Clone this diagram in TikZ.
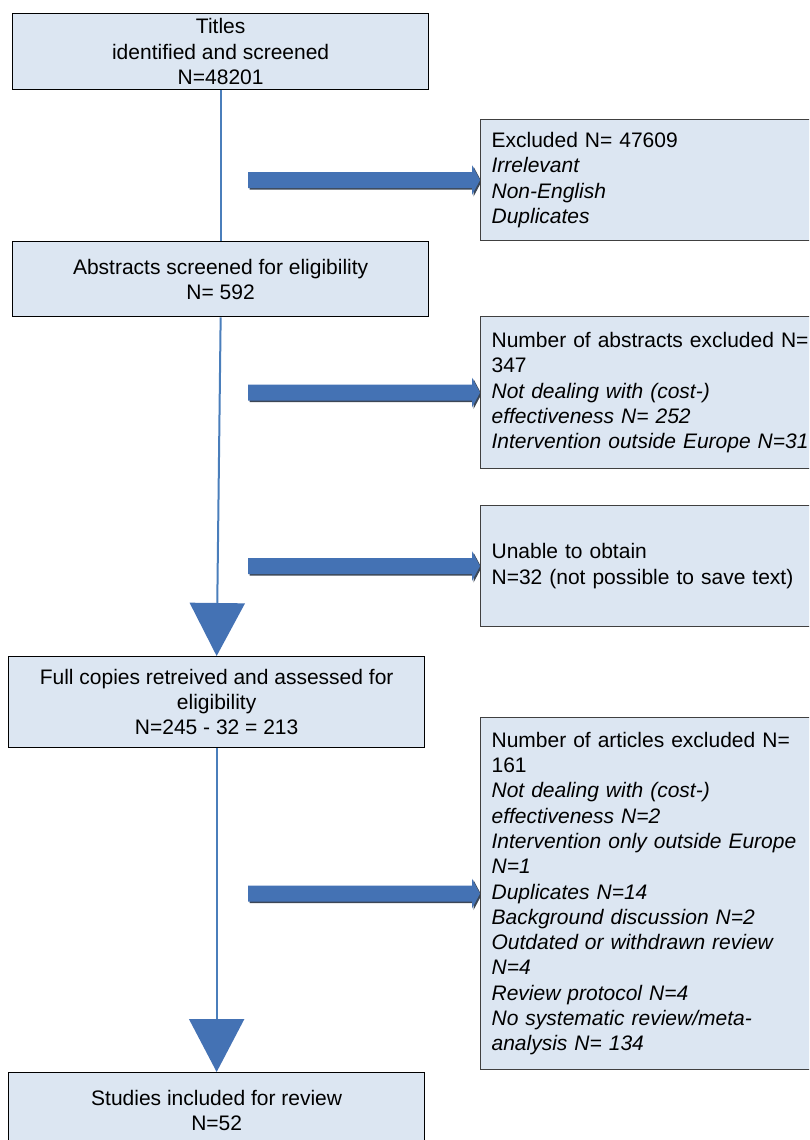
\documentclass[tikz,border=0pt]{standalone}
\usepackage{fontspec}
\setmainfont{Liberation Sans}
\usetikzlibrary{arrows.meta}
\definecolor{boxfill}{HTML}{DCE6F2}
\definecolor{arrblue}{HTML}{4472B4}
\definecolor{lineblue}{HTML}{4A7EBB}
\definecolor{shad}{HTML}{3C4756}
\definecolor{rborder}{HTML}{404040}
\pgfdeclarelayer{bg}
\pgfsetlayers{bg,main}
\newcommand\myblockarrow[3]{%
  \fill[#3] ([shift={(0,-8)}]#1) -- ([shift={(-8,-8)}]#2) -- ([shift={(-8,-15)}]#2) -- (#2)
    -- ([shift={(-8,15)}]#2) -- ([shift={(-8,8)}]#2) -- ([shift={(0,8)}]#1) -- cycle;}
\tikzset{
  lbox/.style={draw=black, line width=1.3pt, fill=boxfill, anchor=north west,
    minimum width=416pt, align=center, inner sep=0pt},
  rbox/.style={draw=rborder, line width=1.2pt, fill=boxfill, anchor=north west,
    text width=390pt, align=left, inner xsep=11pt, inner ysep=0pt},
  vline/.style={draw=lineblue, line width=2pt},
  bigtip/.style={-{Triangle[length=53pt,width=55pt,color=arrblue]}}
}
\begin{document}
\begin{tikzpicture}[x=1pt, y=-1pt, font=\fontsize{21}{25.3}\selectfont]
\useasboundingbox (0,0) rectangle (809,1140);
\clip (0,0) rectangle (809,1140);
% left column
\node[lbox, minimum height=76pt] (b1) at (12,13) {Titles\\identified and screened\\N=48201};
\node[lbox, minimum height=75pt] (b2) at (12,241) {Abstracts screened for eligibility\\N= 592};
\node[lbox, minimum height=91pt] (b3) at (8,656) {Full copies retreived and assessed for\\eligibility\\N=245 - 32 = 213};
\node[lbox, minimum height=75pt] (b4) at (8,1072) {Studies included for review\\N=52};
% right column
\node[rbox, minimum height=121pt] (r1) at (480,119) {Excluded N= 47609\\\textit{Irrelevant}\\\textit{Non-English}\\\textit{Duplicates}};
\node[rbox, minimum height=152pt] (r2) at (480,316) {Number of abstracts excluded N=\\347\\\textit{Not dealing with (cost-)}\\\textit{effectiveness N= 252}\\\textit{Intervention outside Europe N=31}};
\node[rbox, minimum height=121pt] (r3) at (480,505) {Unable to obtain\\N=32 (not possible to save text)};
\node[rbox, minimum height=352pt] (r4) at (480,717) {Number of articles excluded N=\\161\\\textit{Not dealing with (cost-)}\\\textit{effectiveness N=2}\\\textit{Intervention only outside Europe}\\\textit{N=1}\\\textit{Duplicates N=14}\\\textit{Background discussion N=2}\\\textit{Outdated or withdrawn review}\\\textit{N=4}\\\textit{Review protocol N=4}\\\textit{No systematic review/meta-}\\\textit{analysis N= 134}};
% vertical connectors
\draw[vline] (b1.south) -- (b2.north);
\draw[vline, bigtip] (b2.south) -- (b3.north);
\draw[vline, bigtip] (b3.south) -- (b4.north);
% block arrows
\coordinate (s1) at ([xshift=-232pt]r1.west);
\coordinate (s2) at ([xshift=-232pt]r2.west);
\coordinate (s3) at ([xshift=-232pt]r3.west);
\coordinate (s4) at ([xshift=-232pt]r4.west);
\begin{pgfonlayer}{bg}
\begin{scope}[transform canvas={shift={(1.5pt,-1.5pt)}}]
\myblockarrow{s1}{r1.west}{shad}
\myblockarrow{s2}{r2.west}{shad}
\myblockarrow{s3}{r3.west}{shad}
\myblockarrow{s4}{r4.west}{shad}
\end{scope}
\myblockarrow{s1}{r1.west}{arrblue}
\myblockarrow{s2}{r2.west}{arrblue}
\myblockarrow{s3}{r3.west}{arrblue}
\myblockarrow{s4}{r4.west}{arrblue}
\end{pgfonlayer}
\end{tikzpicture}
\end{document}
